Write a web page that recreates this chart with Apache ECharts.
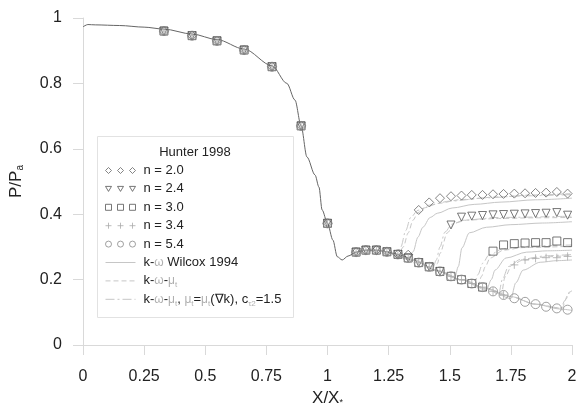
<!DOCTYPE html>
<html>
<head>
<meta charset="utf-8">
<script src="https://cdn.jsdelivr.net/npm/echarts@6/dist/echarts.min.js"></script>
<style>
  html, body { margin: 0; padding: 0; background: #fff; }
  #chart { width: 577px; height: 407px; }
</style>
</head>
<body>
<div id="chart"></div>
<script>
// Hunter 1998 measured wall pressure, one list per n, all at the same stations
const xPts = [0.331, 0.446, 0.548, 0.659, 0.773, 0.892, 1.0, 1.117, 1.157, 1.2, 1.243, 1.288, 1.33,
  1.373, 1.416, 1.46, 1.505, 1.548, 1.59, 1.634, 1.677, 1.72, 1.764, 1.808, 1.851, 1.894, 1.938, 1.982];
const n20 = [0.96, 0.946, 0.93, 0.902, 0.851, 0.67, 0.372, 0.284, 0.29, 0.29, 0.285, 0.277, 0.276,
  0.413, 0.436, 0.449, 0.455, 0.457, 0.459, 0.459, 0.461, 0.462, 0.463, 0.464, 0.465, 0.466, 0.468, 0.463];
const n24 = [0.96, 0.946, 0.93, 0.902, 0.851, 0.67, 0.372, 0.284, 0.29, 0.29, 0.285, 0.277, 0.266,
  0.252, 0.239, 0.225, 0.367, 0.391, 0.394, 0.396, 0.398, 0.399, 0.4, 0.401, 0.402, 0.403, 0.405, 0.397];
const n30 = [0.96, 0.946, 0.93, 0.902, 0.851, 0.67, 0.372, 0.284, 0.29, 0.29, 0.285, 0.277, 0.266,
  0.252, 0.239, 0.225, 0.21, 0.2, 0.188, 0.177, 0.287, 0.306, 0.31, 0.312, 0.313, 0.313, 0.318, 0.313];
const n34 = [0.96, 0.946, 0.93, 0.902, 0.851, 0.67, 0.372, 0.284, 0.29, 0.29, 0.285, 0.277, 0.266,
  0.252, 0.239, 0.225, 0.21, 0.2, 0.188, 0.177, 0.164, 0.153, 0.245, 0.26, 0.265, 0.267, 0.267, 0.271];
const n54 = [0.96, 0.946, 0.93, 0.902, 0.851, 0.67, 0.372, 0.284, 0.29, 0.29, 0.285, 0.277, 0.266,
  0.252, 0.239, 0.225, 0.21, 0.2, 0.188, 0.177, 0.164, 0.153, 0.143, 0.132, 0.125, 0.117, 0.112, 0.108];

// computed curve shared by all runs up to the shock
const commonX = [0, 0.02, 0.05, 0.15, 0.25, 0.331, 0.446, 0.548, 0.659, 0.773, 0.834, 0.867, 0.892, 0.916,
  0.949, 0.965, 0.978, 1.0, 1.022, 1.04, 1.06, 1.084, 1.117, 1.157, 1.2, 1.243, 1.288, 1.33];
const commonY = [0.973, 0.98, 0.979, 0.977, 0.972, 0.966, 0.951, 0.934, 0.905, 0.854, 0.8, 0.749, 0.67, 0.575,
  0.52, 0.483, 0.413, 0.372, 0.321, 0.27, 0.26, 0.272, 0.284, 0.29, 0.29, 0.285, 0.277, 0.266];

// model branches downstream of the shock: w = k-w Wilcox, m = k-w-mut, g = mut(grad k)
const w20 = [[1.25,0.284],[1.3,0.273],[1.33,0.266],[1.35,0.285],[1.37,0.33],[1.39,0.36],[1.42,0.39],[1.45,0.403],[1.51,0.419],[1.6,0.43],[1.71,0.437],[1.85,0.444],[2.0,0.449]];
const m20 = [[1.25,0.284],[1.29,0.275],[1.31,0.3],[1.33,0.343],[1.35,0.382],[1.37,0.405],[1.4,0.42],[1.45,0.433],[1.55,0.445],[1.7,0.453],[1.85,0.459],[2.0,0.463]];
const g20 = [[1.25,0.284],[1.28,0.277],[1.3,0.3],[1.32,0.35],[1.34,0.39],[1.37,0.412],[1.42,0.428],[1.5,0.44],[1.65,0.45],[1.8,0.456],[2.0,0.46]];
const w24 = [[1.25,0.284],[1.35,0.26],[1.45,0.227],[1.52,0.205],[1.535,0.24],[1.55,0.297],[1.58,0.343],[1.65,0.36],[1.75,0.368],[1.88,0.373],[2.0,0.377]];
const m24 = [[1.25,0.284],[1.35,0.26],[1.44,0.23],[1.45,0.25],[1.46,0.28],[1.49,0.343],[1.52,0.373],[1.57,0.382],[1.7,0.387],[1.85,0.389],[2.0,0.39]];
const g24 = [[1.25,0.284],[1.35,0.26],[1.43,0.232],[1.445,0.26],[1.46,0.3],[1.48,0.345],[1.51,0.37],[1.56,0.382],[1.7,0.39],[2.0,0.394]];
const w30 = [[1.25,0.284],[1.35,0.26],[1.45,0.227],[1.55,0.199],[1.65,0.168],[1.67,0.2],[1.685,0.229],[1.73,0.266],[1.815,0.284],[1.9,0.288],[2.0,0.29]];
const m30 = [[1.25,0.284],[1.35,0.26],[1.45,0.227],[1.55,0.199],[1.615,0.18],[1.63,0.21],[1.645,0.239],[1.665,0.266],[1.72,0.29],[1.8,0.298],[2.0,0.302]];
const g30 = [[1.25,0.284],[1.35,0.26],[1.45,0.227],[1.55,0.199],[1.6,0.185],[1.615,0.215],[1.635,0.25],[1.66,0.275],[1.72,0.295],[1.85,0.303],[2.0,0.306]];
const w34 = [[1.25,0.284],[1.35,0.26],[1.45,0.227],[1.55,0.199],[1.65,0.173],[1.75,0.142],[1.77,0.19],[1.8,0.229],[1.87,0.253],[1.94,0.258],[2.0,0.26]];
const m34 = [[1.25,0.284],[1.35,0.26],[1.45,0.227],[1.55,0.199],[1.65,0.173],[1.71,0.152],[1.726,0.208],[1.755,0.245],[1.8,0.26],[1.9,0.27],[2.0,0.274]];
const g34 = [[1.25,0.284],[1.35,0.26],[1.45,0.227],[1.55,0.199],[1.65,0.173],[1.7,0.156],[1.715,0.2],[1.74,0.24],[1.79,0.262],[1.9,0.273],[2.0,0.277]];
const w54 = [[1.25,0.284],[1.35,0.26],[1.45,0.227],[1.55,0.199],[1.65,0.173],[1.75,0.148],[1.85,0.125],[1.95,0.11],[2.0,0.106]];
const m54 = [[1.25,0.284],[1.35,0.26],[1.45,0.227],[1.55,0.199],[1.65,0.173],[1.75,0.148],[1.85,0.125],[1.96,0.112],[1.975,0.14],[1.99,0.162],[2.0,0.166]];
const g54 = [[1.25,0.284],[1.35,0.26],[1.45,0.227],[1.55,0.199],[1.65,0.173],[1.75,0.148],[1.85,0.125],[1.955,0.113],[1.97,0.135],[1.985,0.158],[2.0,0.163]];

const xTicks = { min: 0, max: 2, interval: 0.25 };
const yTicks = { min: 0, max: 1, interval: 0.2 };

const MODEL_W = 'k-ω Wilcox 1994';
const MODEL_M = 'k-ω-μt';
const MODEL_G = 'k-ω-μt, μt=μt(∇k), cτ2=1.5';

const legendText = {};
legendText[MODEL_W] = 'k-{g|ω} Wilcox 1994';
legendText[MODEL_M] = 'k-{g|ω}-{g|μ}{s|t}';
legendText[MODEL_G] = 'k-{g|ω}-{g|μ}{s|t}, {g|μ}{s|t}={g|μ}{s|t}(∇k), c{s|τ2}=1.5';

// symbols
const sym = {
  diamond: 'path://M5,0L10,5L5,10L0,5Z',
  tri: 'path://M0,0L10,0L5,9Z',
  square: 'path://M0,0L10,0L10,10L0,10Z',
  plus: 'path://M0,5L10,5M5,0L5,10',
  circle: 'path://M0,5A5,5,0,1,1,10,5A5,5,0,1,1,0,5Z'
};
const icon3 = {
  diamond: 'path://M0,3L3,0L6,3L3,6ZM12,3L15,0L18,3L15,6ZM24,3L27,0L30,3L27,6Z',
  tri: 'path://M0,0L6,0L3,5ZM12,0L18,0L15,5ZM24,0L30,0L27,5Z',
  square: 'path://M0,0L6,0L6,6L0,6ZM12,0L18,0L18,6L12,6ZM24,0L30,0L30,6L24,6Z',
  plus: 'path://M0,3L6,3M3,0L3,6M12,3L18,3M15,0L15,6M24,3L30,3M27,0L27,6',
  circle: 'path://M0,3A3,3,0,1,1,6,3A3,3,0,1,1,0,3ZM12,3A3,3,0,1,1,18,3A3,3,0,1,1,12,3ZM24,3A3,3,0,1,1,30,3A3,3,0,1,1,24,3Z'
};

const runs = [
  { name: 'n = 2.0', y: n20, s: 'diamond', size: 9, color: '#666' },
  { name: 'n = 2.4', y: n24, s: 'tri', size: 8, color: '#555' },
  { name: 'n = 3.0', y: n30, s: 'square', size: 8, color: '#555' },
  { name: 'n = 3.4', y: n34, s: 'plus', size: 8, color: '#aaa' },
  { name: 'n = 5.4', y: n54, s: 'circle', size: 9, color: '#888' }
];

const modelLines = [
  { name: MODEL_W, type: 'solid', data: [w20, w24, w30, w34, w54] },
  { name: MODEL_M, type: [5, 3], data: [m20, m24, m30, m34, m54] },
  { name: MODEL_G, type: [9, 3, 2, 3], data: [g20, g24, g30, g34, g54] }
];

const series = [];
modelLines.forEach(function (m) {
  m.data.forEach(function (d) {
    series.push({
      name: m.name, type: 'line', data: d, symbol: 'none',
      smooth: 0.3, smoothMonotone: 'x', z: 2,
      lineStyle: { color: '#c6c6c6', width: 1, type: m.type },
      itemStyle: { color: '#c6c6c6' }
    });
  });
});
series.push({
  name: '', type: 'line', data: commonX.map(function (x, i) { return [x, commonY[i]]; }),
  symbol: 'none', smooth: 0.3, smoothMonotone: 'x', z: 3,
  lineStyle: { color: '#666', width: 1 }
});
runs.forEach(function (r) {
  series.push({
    name: r.name, type: 'scatter', z: 4,
    data: xPts.map(function (x, i) { return [x, r.y[i]]; }),
    symbol: sym[r.s], symbolSize: r.size,
    itemStyle: { color: 'transparent', borderColor: r.color, borderWidth: 1 }
  });
});

// scatter entries get three markers, line entries only their line (no centre dot)
const legendData = runs.map(function (r) {
  return { name: r.name, icon: icon3[r.s], itemStyle: { color: 'transparent', borderColor: r.color, borderWidth: 1 } };
}).concat(modelLines.map(function (m) {
  return { name: m.name, itemStyle: { color: 'transparent', borderColor: 'transparent', borderWidth: 0, opacity: 0 } };
}));

const FONT = '"Liberation Sans", Arial, sans-serif';

const chart = echarts.init(document.getElementById('chart'), null, { renderer: 'canvas' });
chart.setOption({
  animation: false,
  backgroundColor: '#fff',
  textStyle: { fontFamily: FONT },
  grid: { left: 83, right: 5, top: 18, bottom: 62, outerBoundsMode: 'none' },
  xAxis: {
    type: 'value', min: xTicks.min, max: xTicks.max, interval: xTicks.interval,
    name: 'X/X{s|*}', nameLocation: 'middle', nameGap: 44,
    nameTextStyle: { fontSize: 17, color: '#222', fontFamily: FONT,
      rich: { s: { fontSize: 9, color: '#222', verticalAlign: 'bottom', lineHeight: 8 } } },
    axisLine: { show: true, lineStyle: { color: '#d9d9d9', width: 1 } },
    axisTick: { show: true, length: 10, lineStyle: { color: '#d9d9d9' } },
    axisLabel: { fontSize: 16, color: '#222', margin: 24, fontFamily: FONT },
    splitLine: { show: false }
  },
  yAxis: {
    type: 'value', min: yTicks.min, max: yTicks.max, interval: yTicks.interval,
    name: 'P/P{s|a}', nameLocation: 'middle', nameGap: 58,
    nameTextStyle: { fontSize: 17, color: '#222', fontFamily: FONT,
      rich: { s: { fontSize: 10, color: '#222', verticalAlign: 'bottom', lineHeight: 8 } } },
    axisLine: { show: true, lineStyle: { color: '#d9d9d9', width: 1 } },
    axisTick: { show: true, length: 10, lineStyle: { color: '#d9d9d9' } },
    axisLabel: { fontSize: 16, color: '#222', margin: 21, fontFamily: FONT },
    splitLine: { show: false }
  },
  legend: {
    orient: 'vertical', left: 105, top: 162.5, padding: 0,
    itemWidth: 30, itemHeight: 6, itemGap: 2.4,
    symbolRotate: 0,
    lineStyle: { width: 1 },
    data: legendData,
    formatter: function (name) { return legendText[name] || name; },
    textStyle: {
      fontSize: 13, color: '#222', lineHeight: 16, padding: [0, 0, 0, 3], fontFamily: FONT,
      rich: {
        g: { fontSize: 12, color: '#b0b0b0', lineHeight: 16 },
        s: { fontSize: 8, color: '#b0b0b0', lineHeight: 8, verticalAlign: 'bottom' }
      }
    }
  },
  graphic: [
    { type: 'rect', shape: { x: 97.5, y: 136.5, width: 196, height: 181 },
      style: { fill: 'none', stroke: '#e2e2e2', lineWidth: 1 }, z: 1 },
    { type: 'text', x: 195, y: 152,
      style: { text: 'Hunter 1998', fontSize: 13, fill: '#222', fontFamily: FONT,
        textAlign: 'center', textVerticalAlign: 'middle' } }
  ],
  series: series
});
</script>
</body>
</html>
